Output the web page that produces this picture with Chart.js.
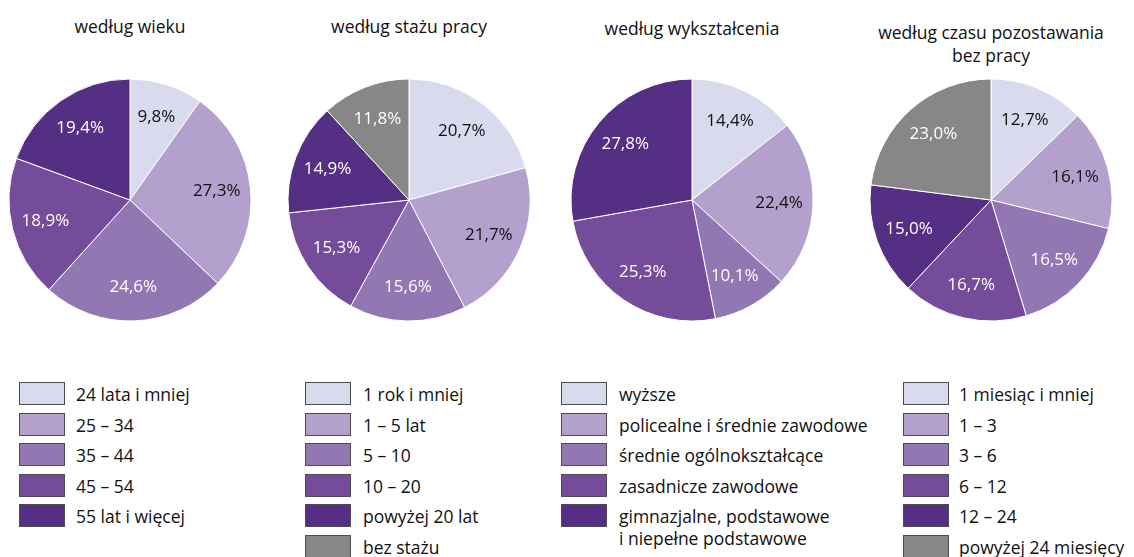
<!DOCTYPE html>
<html>
<head>
<meta charset="utf-8">
<script src="https://cdn.jsdelivr.net/npm/chart.js@4"></script>
<style>
  body { margin: 0; width: 1134px; height: 557px; background: #fff; position: relative; overflow: hidden;
         font-family: "Open Sans", sans-serif; color: #111; }
  .title { position: absolute; width: 300px; text-align: center; font-size: 17.5px; line-height: 23px; white-space: pre-line; }
  .pie { position: absolute; top: 75px; width: 250px; height: 250px; }
  .legend { position: absolute; top: 382px; }
  .row { position: relative; height: 30.6px; }
  .box { position: absolute; left: 0; top: 0; width: 44px; height: 21px; border: 1px solid #4d4d4d; }
  .lbl { position: absolute; top: 1px; font-size: 17.5px; line-height: 22px; white-space: pre; }
</style>
</head>
<body>
<script>
// --- data ---
const titles = ['według wieku', 'według stażu pracy', 'według wykształcenia', 'według czasu pozostawania\nbez pracy'];

const ageLabels = ['24 lata i mniej', '25 – 34', '35 – 44', '45 – 54', '55 lat i więcej'];
const ageValues = [9.8, 27.3, 24.6, 18.9, 19.4];

const tenureLabels = ['1 rok i mniej', '1 – 5 lat', '5 – 10', '10 – 20', 'powyżej 20 lat', 'bez stażu'];
const tenureValues = [20.7, 21.7, 15.6, 15.3, 14.9, 11.8];

const eduLabels = ['wyższe', 'policealne i średnie zawodowe', 'średnie ogólnokształcące', 'zasadnicze zawodowe',
                   'gimnazjalne, podstawowe\ni niepełne podstawowe'];
const eduValues = [14.4, 22.4, 10.1, 25.3, 27.8];

const timeLabels = ['1 miesiąc i mniej', '1 – 3', '3 – 6', '6 – 12', '12 – 24', 'powyżej 24 miesięcy'];
const timeValues = [12.7, 16.1, 16.5, 16.7, 15.0, 23.0];

// --- styles ---
const purples = ['#d9daee', '#b3a0cd', '#9277b2', '#754c9a', '#552f83'];
const grey = '#878787';
const centers = [130, 409, 692, 991];
const titleY = [15, 15, 17, 21];
const legendX = [19, 305, 561, 903];
const textX = [57, 58, 58, 56];

const sets = [
  { labels: ageLabels, values: ageValues, colors: purples },
  { labels: tenureLabels, values: tenureValues, colors: purples.concat([grey]) },
  { labels: eduLabels, values: eduValues, colors: purples },
  { labels: timeLabels, values: timeValues, colors: purples.concat([grey]) }
];

// draws the percent value inside each slice
const sliceLabels = {
  id: 'sliceLabels',
  afterDatasetsDraw(chart) {
    const ctx = chart.ctx;
    const meta = chart.getDatasetMeta(0);
    const vals = chart.data.datasets[0].data;
    ctx.save();
    ctx.font = '17px "Open Sans", sans-serif';
    ctx.textAlign = 'center';
    ctx.textBaseline = 'middle';
    meta.data.forEach((arc, i) => {
      const mid = (arc.startAngle + arc.endAngle) / 2;
      const r = arc.outerRadius * 0.72;
      ctx.fillStyle = i < 2 ? '#111111' : '#ffffff';
      ctx.fillText(vals[i].toFixed(1).replace('.', ',') + '%', arc.x + Math.cos(mid) * r, arc.y + Math.sin(mid) * r);
    });
    ctx.restore();
  }
};

sets.forEach((s, k) => {
  const t = document.createElement('div');
  t.className = 'title';
  t.style.left = (centers[k] - 150) + 'px';
  t.style.top = titleY[k] + 'px';
  t.textContent = titles[k];
  document.body.appendChild(t);

  const c = document.createElement('canvas');
  c.className = 'pie';
  c.width = 250; c.height = 250;
  c.style.left = (centers[k] - 125) + 'px';
  document.body.appendChild(c);

  new Chart(c.getContext('2d'), {
    type: 'pie',
    data: {
      labels: s.labels,
      datasets: [{
        data: s.values,
        backgroundColor: s.colors,
        borderColor: '#ffffff',
        borderWidth: 1
      }]
    },
    options: {
      responsive: false,
      animation: false,
      radius: 121,
      layout: { padding: 0 },
      plugins: { legend: { display: false }, tooltip: { enabled: false } }
    },
    plugins: [sliceLabels]
  });

  // legend
  const lg = document.createElement('div');
  lg.className = 'legend';
  lg.style.left = legendX[k] + 'px';
  s.labels.forEach((lab, i) => {
    const row = document.createElement('div');
    row.className = 'row';
    const b = document.createElement('div');
    b.className = 'box';
    b.style.background = s.colors[i];
    const l = document.createElement('div');
    l.className = 'lbl';
    l.style.left = textX[k] + 'px';
    l.textContent = lab;
    row.appendChild(b); row.appendChild(l);
    lg.appendChild(row);
  });
  document.body.appendChild(lg);
});
</script>
</body>
</html>
